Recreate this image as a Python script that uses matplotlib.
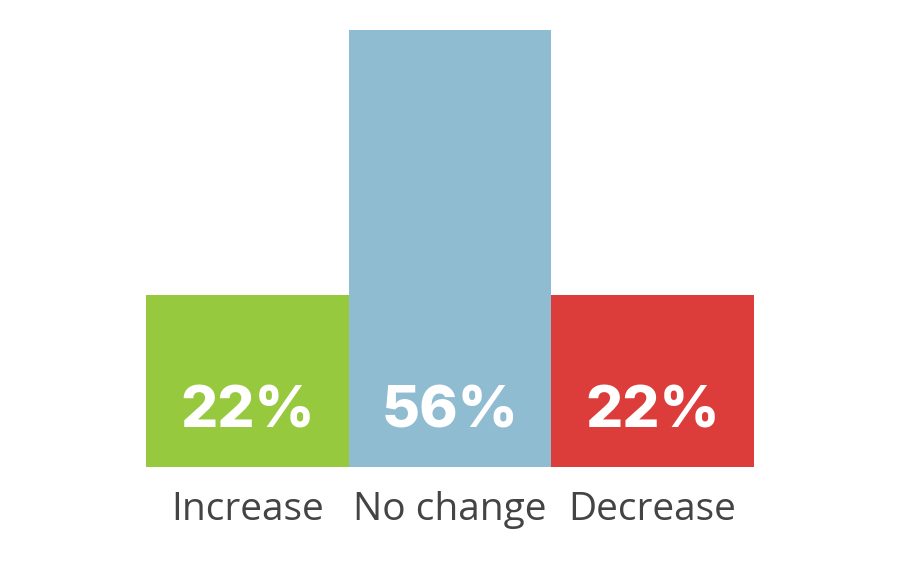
import matplotlib
matplotlib.use("Agg")
import matplotlib.pyplot as plt

categories = ["Increase", "No change", "Decrease"]
values = [22, 56, 22]
colors = ["#96c93d", "#8fbcd1", "#dc3d3a"]

W, H = 900, 580
fig = plt.figure(figsize=(W / 100, H / 100), dpi=100)
# axes box in pixels: x 146..754, y 30..467 (top-down)
ax = fig.add_axes([146 / W, (H - 467) / H, (754 - 146) / W, (467 - 30) / H])

x = range(len(categories))
ax.bar(x, values, width=1.0, color=colors, edgecolor="none")
ax.set_xlim(-0.5, 2.5)
ax.set_ylim(0, max(values))
ax.axis("off")

# value labels inside bars, near the bottom
for xi, v in zip(x, values):
    y_pix = 412
    ax.text(xi, 1 - (y_pix - 30) / (467 - 30), f"{v}%",
            transform=ax.get_xaxis_transform(),
            ha="center", va="center", color="white",
            fontsize=42, fontweight="heavy", family=["Inter", "DejaVu Sans"])

# category labels under the bars
for xi, c in zip(x, categories):
    ax.text(xi, -(510 - 467) / (467 - 30), c,
            transform=ax.get_xaxis_transform(),
            ha="center", va="center", color="#444444",
            fontsize=28, family=["Open Sans", "DejaVu Sans"])

fig.savefig("out.png", dpi=100, facecolor="white")
